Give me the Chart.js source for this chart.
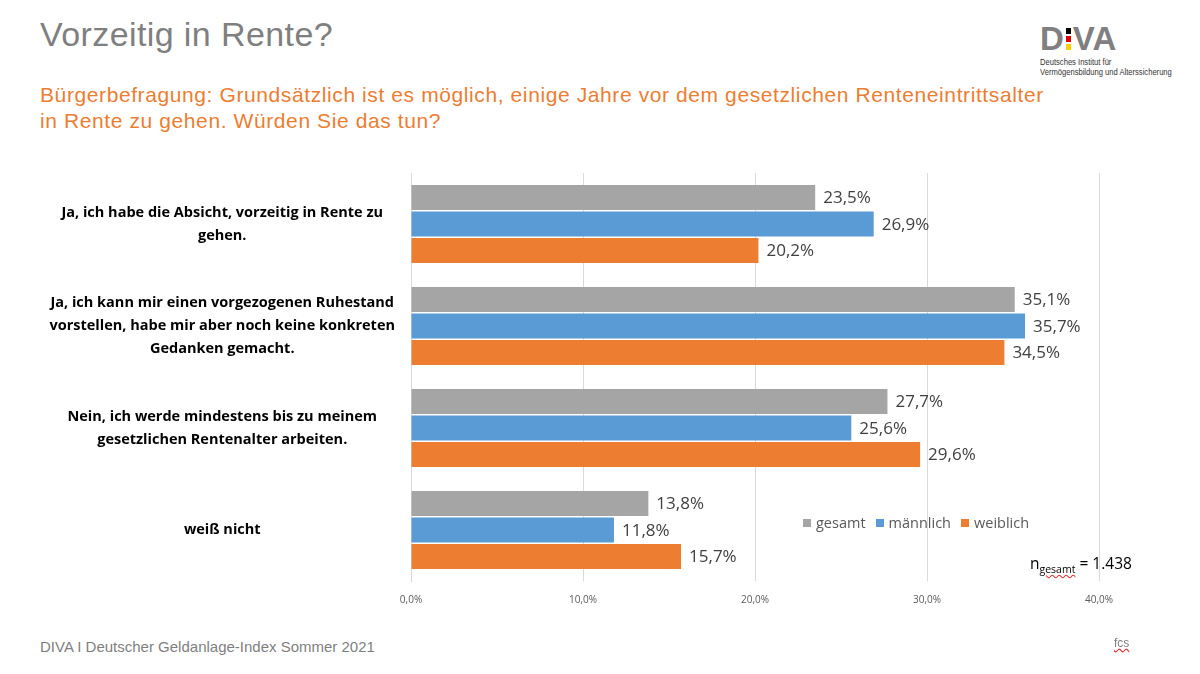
<!DOCTYPE html>
<html lang="de">
<head>
<meta charset="utf-8">
<script src="https://cdn.jsdelivr.net/npm/chart.js@4.4.1/dist/chart.umd.min.js"></script>
<style>
  html, body { margin: 0; padding: 0; background: #fff; }
  body { width: 1200px; height: 674px; position: relative; overflow: hidden; font-family: "Liberation Sans", Arial, sans-serif; }
  .title { position: absolute; left: 40px; top: 15px; font-size: 34px; letter-spacing: 0.4px; color: #7f7f7f; }
  .subtitle { position: absolute; left: 40px; top: 82px; font-size: 21px; letter-spacing: 0.6px; line-height: 25.5px; color: #ED7D31; }
  .logo { position: absolute; left: 1040px; top: 22px; }
  .logo .big { font-size: 33px; font-weight: bold; color: #808080; line-height: 34px; display: flex; align-items: center; }
  .logo .dots { display: inline-flex; flex-direction: column; margin: 0 2px; gap: 2px; }
  .logo .dots span { width: 5px; height: 6px; display: block; }
  .logo .small { font-size: 9.5px; line-height: 10px; color: #333; margin-top: 1px; white-space: nowrap; transform: scaleX(0.8); transform-origin: left top; }
  #wrap { position: absolute; left: 0; top: 160px; width: 1200px; height: 460px; }
  .legend { position: absolute; left: 803px; top: 513px; font-family: "Open Sans", sans-serif; font-size: 14.5px; color: #595959; display: flex; gap: 10px; }
  .legend .item { display: flex; align-items: center; }
  .legend .sw { width: 8px; height: 8px; margin-right: 5px; display: inline-block; }
  .ntext { position: absolute; left: 1030px; top: 552px; font-family: "Open Sans", sans-serif; font-size: 15.5px; color: #000; }
  .ntext sub { font-size: 10.5px; text-decoration: underline wavy #e03030; }
  .footer { position: absolute; left: 40px; top: 638px; font-size: 15px; color: #7f7f7f; }
  .fcs { position: absolute; left: 1114px; top: 636px; font-size: 12px; color: #7f7f7f; text-decoration: underline wavy #e03030; }
</style>
</head>
<body>
<div class="title">Vorzeitig in Rente?</div>
<div class="subtitle">Bürgerbefragung: Grundsätzlich ist es möglich, einige Jahre vor dem gesetzlichen Renteneintrittsalter<br>in Rente zu gehen. Würden Sie das tun?</div>
<div class="logo">
  <div class="big">D<span class="dots"><span style="background:#000"></span><span style="background:#dd0000"></span><span style="background:#ffce00"></span></span>VA</div>
  <div class="small">Deutsches Institut für<br>Vermögensbildung und Alterssicherung</div>
</div>
<div id="wrap"><canvas id="chart"></canvas></div>
<div class="legend" id="legend"></div>
<div class="ntext">n<sub>gesamt</sub> = 1.438</div>
<div class="footer">DIVA I Deutscher Geldanlage-Index Sommer 2021</div>
<div class="fcs">fcs</div>

<script>
// Data
const categories = [
    ['Ja, ich habe die Absicht, vorzeitig in Rente zu', 'gehen.'],
    ['Ja, ich kann mir einen vorgezogenen Ruhestand', 'vorstellen, habe mir aber noch keine konkreten', 'Gedanken gemacht.'],
    ['Nein, ich werde mindestens bis zu meinem', 'gesetzlichen Rentenalter arbeiten.'],
    ['weiß nicht']
];
const seriesNames = ['gesamt', 'männlich', 'weiblich'];
const gesamt = [23.5, 35.1, 27.7, 13.8];
const maennlich = [26.9, 35.7, 25.6, 11.8];
const weiblich = [20.2, 34.5, 29.6, 15.7];
const seriesColors = ['#A5A5A5', '#5B9BD5', '#ED7D31'];
const xTicks = [0, 10, 20, 30, 40];

function fmtPct(v) {
    return v.toFixed(1).replace('.', ',') + '%';
}

// Draws the value next to each bar end
const valueLabels = {
    id: 'valueLabels',
    afterDatasetsDraw(chart) {
        const ctx = chart.ctx;
        ctx.save();
        ctx.font = "17px 'Open Sans', sans-serif";
        ctx.fillStyle = '#404040';
        ctx.textAlign = 'left';
        ctx.textBaseline = 'middle';
        chart.data.datasets.forEach((ds, i) => {
            chart.getDatasetMeta(i).data.forEach((bar, j) => {
                ctx.fillText(fmtPct(ds.data[j]), bar.x + 8, bar.y + 1);
            });
        });
        ctx.restore();
    }
};

const allSeries = [gesamt, maennlich, weiblich];

new Chart(document.getElementById('chart'), {
    type: 'bar',
    data: {
        labels: categories,
        datasets: allSeries.map((vals, i) => ({
            label: seriesNames[i],
            data: vals,
            backgroundColor: seriesColors[i],
            borderWidth: 0,
            barPercentage: 0.94,
            categoryPercentage: 0.78
        }))
    },
    options: {
        indexAxis: 'y',
        responsive: true,
        maintainAspectRatio: false,
        animation: false,
        layout: { padding: { left: 40, right: 101, top: 13, bottom: 0 } },
        plugins: {
            legend: { display: false },
            tooltip: { enabled: false }
        },
        scales: {
            x: {
                min: 0,
                max: 40,
                afterBuildTicks: (axis) => { axis.ticks = xTicks.map(v => ({ value: v })); },
                afterFit: (axis) => { axis.height = 39; },
                grid: { color: '#D9D9D9', drawTicks: false },
                border: { display: false },
                ticks: {
                    padding: 13,
                    color: '#595959',
                    font: { family: "'Open Sans', sans-serif", size: 10 },
                    callback: (v) => fmtPct(v)
                }
            },
            y: {
                afterFit: (axis) => {
                    axis.width = 371;
                    axis.paddingTop = 0;
                    axis.paddingBottom = 0;
                },
                grid: { display: false },
                border: { display: true, color: '#D9D9D9' },
                ticks: {
                    crossAlign: 'center',
                    padding: 8,
                    color: '#000',
                    font: { family: "'Open Sans', sans-serif", size: 14.5, weight: 'bold', lineHeight: 1.58 }
                }
            }
        }
    },
    plugins: [valueLabels]
});

// HTML legend
const legend = document.getElementById('legend');
legend.innerHTML = seriesNames.map((n, i) =>
    `<span class="item"><span class="sw" style="background:${seriesColors[i]}"></span>${n}</span>`
).join('');
</script>
</body>
</html>
